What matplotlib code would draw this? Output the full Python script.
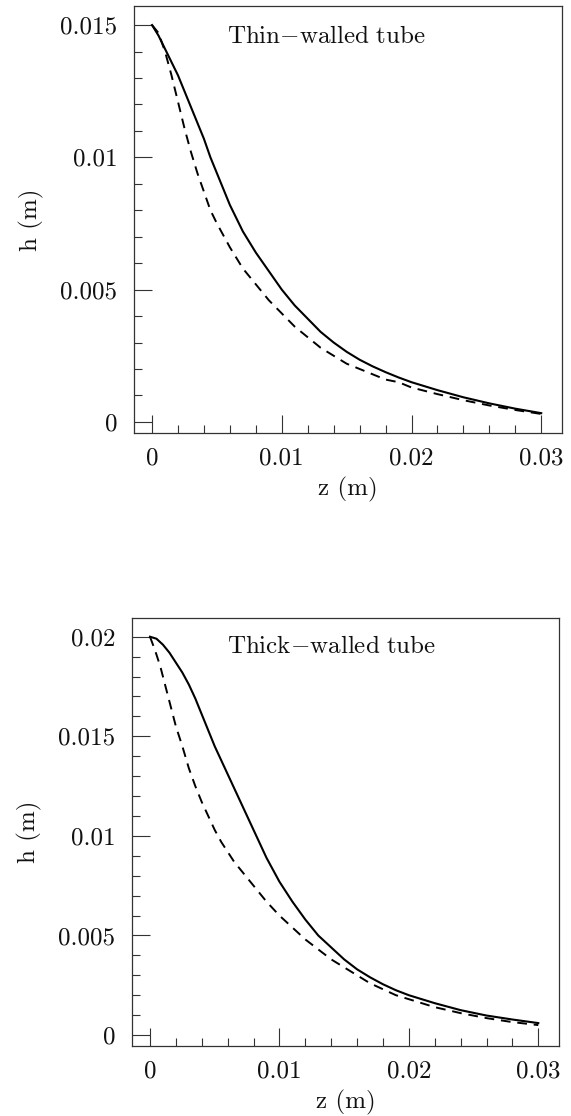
import matplotlib
matplotlib.use("Agg")
import matplotlib.pyplot as plt
from matplotlib.ticker import MultipleLocator, FixedLocator, FixedFormatter

plt.rcParams['font.family'] = ['cmr10', 'DejaVu Serif']
plt.rcParams['mathtext.fontset'] = 'cm'
plt.rcParams['axes.formatter.use_mathtext'] = True

# ---- data: thin-walled tube ----
thin_z_solid = [0, 0.0005, 0.001, 0.0015, 0.002, 0.0025, 0.003, 0.0035, 0.004, 0.0045,
                0.005, 0.0055, 0.006, 0.0065, 0.007, 0.0075, 0.008, 0.009, 0.010, 0.011,
                0.012, 0.013, 0.014, 0.015, 0.016, 0.017, 0.018, 0.019, 0.020, 0.022,
                0.024, 0.026, 0.028, 0.030]
thin_h_solid = [0.0150, 0.0146, 0.0141, 0.0136, 0.0131, 0.0125, 0.0119, 0.0113, 0.0107, 0.0100,
                0.0094, 0.0088, 0.0082, 0.0077, 0.0072, 0.0068, 0.0064, 0.0057, 0.0050, 0.0044,
                0.0039, 0.0034, 0.0030, 0.00265, 0.00235, 0.0021, 0.00188, 0.00168, 0.0015, 0.0012,
                0.00093, 0.00070, 0.00050, 0.00033]
thin_z_dash = [0, 0.0005, 0.001, 0.0015, 0.002, 0.0025, 0.003, 0.0035, 0.004, 0.0045,
               0.005, 0.006, 0.007, 0.008, 0.009, 0.010, 0.011, 0.012, 0.013, 0.014,
               0.015, 0.016, 0.017, 0.018, 0.019, 0.020, 0.022, 0.024, 0.026, 0.028, 0.030]
thin_h_dash = [0.0150, 0.0147, 0.0140, 0.0131, 0.0121, 0.0111, 0.0102, 0.0094, 0.0087, 0.0080,
               0.0075, 0.0066, 0.0058, 0.0052, 0.0046, 0.0041, 0.0036, 0.0032, 0.0028, 0.0025,
               0.0022, 0.0020, 0.0018, 0.0016, 0.0015, 0.0013, 0.00105, 0.00082, 0.00062, 0.00045, 0.00030]

# ---- data: thick-walled tube ----
thick_z_solid = [0, 0.0005, 0.001, 0.0015, 0.002, 0.0025, 0.003, 0.0035, 0.004, 0.0045,
                 0.005, 0.0055, 0.006, 0.0065, 0.007, 0.0075, 0.008, 0.009, 0.010, 0.011,
                 0.012, 0.013, 0.014, 0.015, 0.016, 0.017, 0.018, 0.019, 0.020, 0.022,
                 0.024, 0.026, 0.028, 0.030]
thick_h_solid = [0.0200, 0.0199, 0.0196, 0.0192, 0.0187, 0.0182, 0.0176, 0.0169, 0.0161, 0.0153,
                 0.0145, 0.0138, 0.0131, 0.0124, 0.0117, 0.0110, 0.0103, 0.0089, 0.0077, 0.0067,
                 0.0058, 0.0050, 0.0044, 0.0038, 0.0033, 0.0029, 0.00255, 0.00225, 0.0020, 0.0016,
                 0.00125, 0.00098, 0.00078, 0.0006]
thick_z_dash = [0, 0.0004, 0.0008, 0.0012, 0.0016, 0.002, 0.0025, 0.003, 0.0035, 0.004,
                0.0045, 0.005, 0.0055, 0.006, 0.0065, 0.007, 0.008, 0.009, 0.010, 0.011,
                0.012, 0.013, 0.014, 0.015, 0.016, 0.017, 0.018, 0.019, 0.020, 0.022,
                0.024, 0.026, 0.028, 0.030]
thick_h_dash = [0.0200, 0.0193, 0.0185, 0.0175, 0.0165, 0.0155, 0.0145, 0.0134, 0.0125, 0.0117,
                0.0110, 0.0103, 0.0097, 0.0092, 0.0087, 0.0083, 0.0075, 0.0067, 0.0060, 0.0054,
                0.0048, 0.0043, 0.0038, 0.0034, 0.0030, 0.0026, 0.0023, 0.0020, 0.0018, 0.0014,
                0.0011, 0.00085, 0.00065, 0.0005]

x_ticks = [0, 0.01, 0.02, 0.03]
x_ticklabels = ['0', '0.01', '0.02', '0.03']
thin_y_ticks = [0, 0.005, 0.01, 0.015]
thin_y_ticklabels = ['0', '0.005', '0.01', '0.015']
thick_y_ticks = [0, 0.005, 0.01, 0.015, 0.02]
thick_y_ticklabels = ['0', '0.005', '0.01', '0.015', '0.02']

W, H = 571, 1116
fig = plt.figure(figsize=(W / 100, H / 100), dpi=100)

ax1 = fig.add_axes([134 / W, 1 - 433 / H, 428 / W, 427 / H])
ax2 = fig.add_axes([132 / W, 1 - 1046 / H, 427 / W, 428 / H])

FS = 18
ink = '#111111'

def style(ax, yt, ytl, ylim, title, tx, ty):
    ax.set_xlim(-0.00139, 0.0316)
    ax.set_ylim(*ylim)
    ax.xaxis.set_major_locator(FixedLocator(x_ticks))
    ax.xaxis.set_major_formatter(FixedFormatter(x_ticklabels))
    ax.yaxis.set_major_locator(FixedLocator(yt))
    ax.yaxis.set_major_formatter(FixedFormatter(ytl))
    ax.xaxis.set_minor_locator(MultipleLocator(0.002))
    ax.yaxis.set_minor_locator(MultipleLocator(0.001))
    ax.tick_params(which='both', direction='in', top=False, right=False,
                   color='#333333', width=0.8, labelsize=FS, labelcolor=ink)
    ax.tick_params(which='major', length=13)
    ax.tick_params(which='minor', length=6)
    ax.tick_params(axis='x', which='major', pad=10)
    ax.tick_params(axis='y', which='major', pad=12)
    for s in ax.spines.values():
        s.set_linewidth(0.9)
        s.set_color('#333333')
    ax.set_xlabel('z (m)', fontsize=FS, color=ink, labelpad=6)
    ax.set_ylabel('h (m)', fontsize=FS, color=ink, labelpad=12)
    ax.text(tx, ty, title, transform=ax.transAxes, fontsize=FS, color=ink,
            ha='left', va='center')

ax1.plot(thin_z_solid, thin_h_solid, color='black', lw=1.5, solid_joinstyle='round')
ax1.plot(thin_z_dash, thin_h_dash, color='black', lw=1.4, linestyle=(0, (5, 3.5)))
style(ax1, thin_y_ticks, thin_y_ticklabels, (-0.00042, 0.01572),
      r'$\mathrm{Thin{-}walled\ tube}$', 0.217, 0.927)

ax2.plot(thick_z_solid, thick_h_solid, color='black', lw=1.5, solid_joinstyle='round')
ax2.plot(thick_z_dash, thick_h_dash, color='black', lw=1.4, linestyle=(0, (5, 3.5)))
style(ax2, thick_y_ticks, thick_y_ticklabels, (-0.00055, 0.02094),
      r'$\mathrm{Thick{-}walled\ tube}$', 0.223, 0.932)

fig.savefig('out.png', dpi=100, facecolor='white')
